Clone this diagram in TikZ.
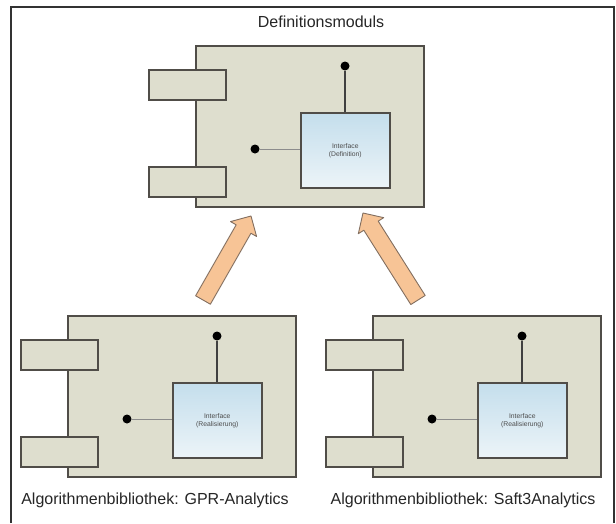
\documentclass[tikz,border=0pt]{standalone}
\usepackage{fontspec}
\setmainfont{Liberation Sans}
\usetikzlibrary{calc}
\definecolor{modfill}{RGB}{222,222,206}
\definecolor{modline}{RGB}{80,77,72}
\definecolor{ifacetop}{RGB}{196,222,236}
\definecolor{ifacebot}{RGB}{236,244,248}
\definecolor{arrowfill}{RGB}{247,196,150}
\definecolor{arrowline}{RGB}{130,110,95}
\definecolor{framecol}{RGB}{50,50,50}

\tikzset{
  modbox/.style={draw=modline, fill=modfill, line width=1.6pt, inner sep=0pt, anchor=north west},
  portbox/.style={draw=modline, fill=modfill, line width=1.6pt, inner sep=0pt, anchor=north west,
    minimum width=77pt, minimum height=30pt},
  ifacebox/.style={draw=modline, line width=1.6pt, top color=ifacetop, bottom color=ifacebot,
    anchor=north west, minimum width=89pt, minimum height=75pt, inner sep=0pt,
    font=\fontsize{6.8}{8}\selectfont, align=center, text=black!70},
  lollipop/.style={circle, fill=black, inner sep=0pt, minimum size=9pt},
  stemdark/.style={draw=black!75, line width=1.4pt},
  stemlight/.style={draw=black!45, line width=1pt},
  blockarrow/.style={draw=arrowline, fill=arrowfill, line width=0.9pt, line join=round},
  caption/.style={font=\fontsize{16}{18}\selectfont, text=black!85}
}

% one component: prefix, left x of body, top y of body, interface text
\newcommand{\component}[4]{%
  \node[modbox, minimum width=228pt, minimum height=161pt] (#1body) at (#2,#3) {};
  \node[portbox] (#1portA) at ($(#2,#3)+(-47,24)$) {};
  \node[portbox] (#1portB) at ($(#2,#3)+(-47,121)$) {};
  \node[ifacebox] (#1iface) at ($(#2,#3)+(105,67)$) {#4};
  \node[lollipop] (#1dotT) at ($(#2,#3)+(150,21)$) {};
  \node[lollipop] (#1dotL) at ($(#2,#3)+(60,104)$) {};
  \draw[stemdark] (#1dotT) -- (#1dotT |- #1iface.north);
  \draw[stemlight] (#1dotL) -- (#1dotL -| #1iface.west);
}

% block arrow from tail coordinate to tip coordinate
\newcommand{\blockarrow}[2]{%
  \coordinate (#1neck) at ($(#2)!15pt!(#1)$);
  \draw[blockarrow]
    ($(#1)!8.5pt!90:(#2)$) --
    ($(#1neck)!8.5pt!-90:(#1)$) --
    ($(#1neck)!15pt!-90:(#1)$) --
    (#2) --
    ($(#1neck)!15pt!90:(#1)$) --
    ($(#1neck)!8.5pt!90:(#1)$) --
    ($(#1)!8.5pt!-90:(#2)$) -- cycle;
}

\begin{document}
\begin{tikzpicture}[x=1pt, y=-1pt]
  \useasboundingbox (0,0) rectangle (616,523);
  \fill[white] (0,0) rectangle (616,523);

  % outer frame
  \draw[framecol, line width=1.6pt] (11,523) -- (11,7) -- (614,7) -- (614,523);

  % definition module
  \node[caption] (deftitle) at (321,22) {Definitionsmoduls};
  \component{def}{195}{45}{Interface\\(Definition)}

  % implementing libraries
  \component{gpr}{67}{315}{Interface\\(Realisierung)}
  \component{saft}{372}{315}{Interface\\(Realisierung)}
  \node[caption] (gprtitle) at (155,500) {Algorithmenbibliothek: GPR-Analytics};
  \node[caption] (safttitle) at (463,500) {Algorithmenbibliothek: Saft3Analytics};

  % realisation arrows
  \coordinate (gprtail) at (203,300);
  \coordinate (gprtip) at (251,216);
  \coordinate (safttail) at (418,300);
  \coordinate (safttip) at (363,213);
  \blockarrow{gprtail}{gprtip}
  \blockarrow{safttail}{safttip}
\end{tikzpicture}
\end{document}
